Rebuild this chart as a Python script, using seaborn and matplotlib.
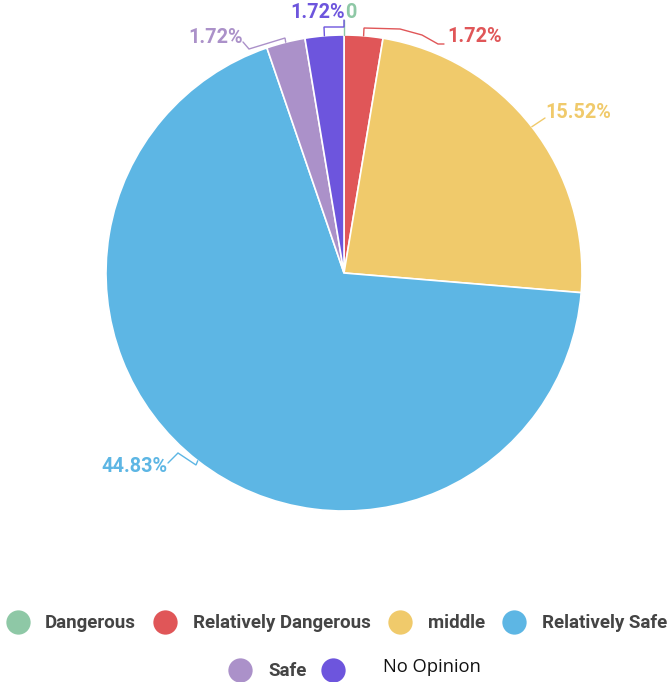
import matplotlib
matplotlib.use("Agg")
import numpy as np
import matplotlib.pyplot as plt
import seaborn as sns
from matplotlib.lines import Line2D

# Survey answers and their shares
categories = ["Dangerous", "Relatively Dangerous", "middle", "Relatively Safe", "Safe", "No Opinion"]
values = [0, 1.72, 15.52, 44.83, 1.72, 1.72]
value_labels = ["0", "1.72%", "15.52%", "44.83%", "1.72%", "1.72%"]
colors = ["#8ec8a6", "#e05658", "#f0ca6b", "#5db6e4", "#ab91c9", "#6d55dd"]

sns.set_theme(style="white")
plt.rcParams["font.family"] = ["Roboto", "DejaVu Sans"]

W, H = 671, 682
fig = plt.figure(figsize=(W / 100, H / 100), dpi=100)

# pie geometry in pixels
cx, cy, R = 344, 273, 238
k = 1.5
L = R * k
ax = fig.add_axes([(cx - L) / W, (H - cy - L) / H, 2 * L / W, 2 * L / H])

wedges, _ = ax.pie(values, colors=colors, startangle=90, counterclock=False,
                   wedgeprops=dict(edgecolor="white", linewidth=1.2))
ax.set_xlim(-k, k)
ax.set_ylim(-k, k)
ax.axis("off")


def P(px, py):
    return ((px - cx) / R, (cy - py) / R)


def edge(w):
    a = np.deg2rad((w.theta1 + w.theta2) / 2)
    return (np.cos(a), np.sin(a))


# leader-line elbows (pixels) and label anchors for each slice
elbows = [
    [(344, 20)],
    [(364, 28), (400, 29), (422, 35), (438, 44), (444, 44)],
    [(545, 118)],
    [(196, 465), (178, 453), (168, 463)],
    [(285, 38), (249, 49), (243, 42)],
    [(324, 27), (344, 27), (344, 20)],
]
anchors = [
    ((345, 12), "left"),
    ((447, 36), "left"),
    ((545, 112), "left"),
    ((168, 467), "right"),
    ((243, 37), "right"),
    ((345, 12), "right"),
]

for i, w in enumerate(wedges):
    pts = [edge(w)] + [P(*p) for p in elbows[i]]
    xs, ys = zip(*pts)
    ax.plot(xs, ys, color=colors[i], lw=1.0, solid_joinstyle="miter", clip_on=False)
    (px, py), ha = anchors[i]
    tx, ty = P(px, py)
    ax.text(tx, ty, value_labels[i], color=colors[i], ha=ha, va="center",
            fontsize=14.3, fontweight="bold", clip_on=False)

# legend, two centred rows
legend_pos = [
    (18, 622, 45), (165, 622, 193), (400, 622, 428), (514, 622, 542),
    (240, 670, 268), (333, 670, 383),
]
for i, (mx, my, tx) in enumerate(legend_pos):
    fig.add_artist(Line2D([mx / W], [1 - my / H], marker="o", markersize=17.5,
                          color=colors[i], markeredgewidth=0, linestyle="none",
                          transform=fig.transFigure))
    if categories[i] == "No Opinion":
        fig.text(tx / W, 1 - (my - 3) / H, categories[i], ha="left", va="center",
                 fontsize=13.2, color="#111111", family=["Open Sans", "DejaVu Sans"])
    else:
        fig.text(tx / W, 1 - (my + 1) / H, categories[i], ha="left", va="center",
                 fontsize=13.5, color="#444444", fontweight="bold")

fig.savefig("out.png", dpi=100)
